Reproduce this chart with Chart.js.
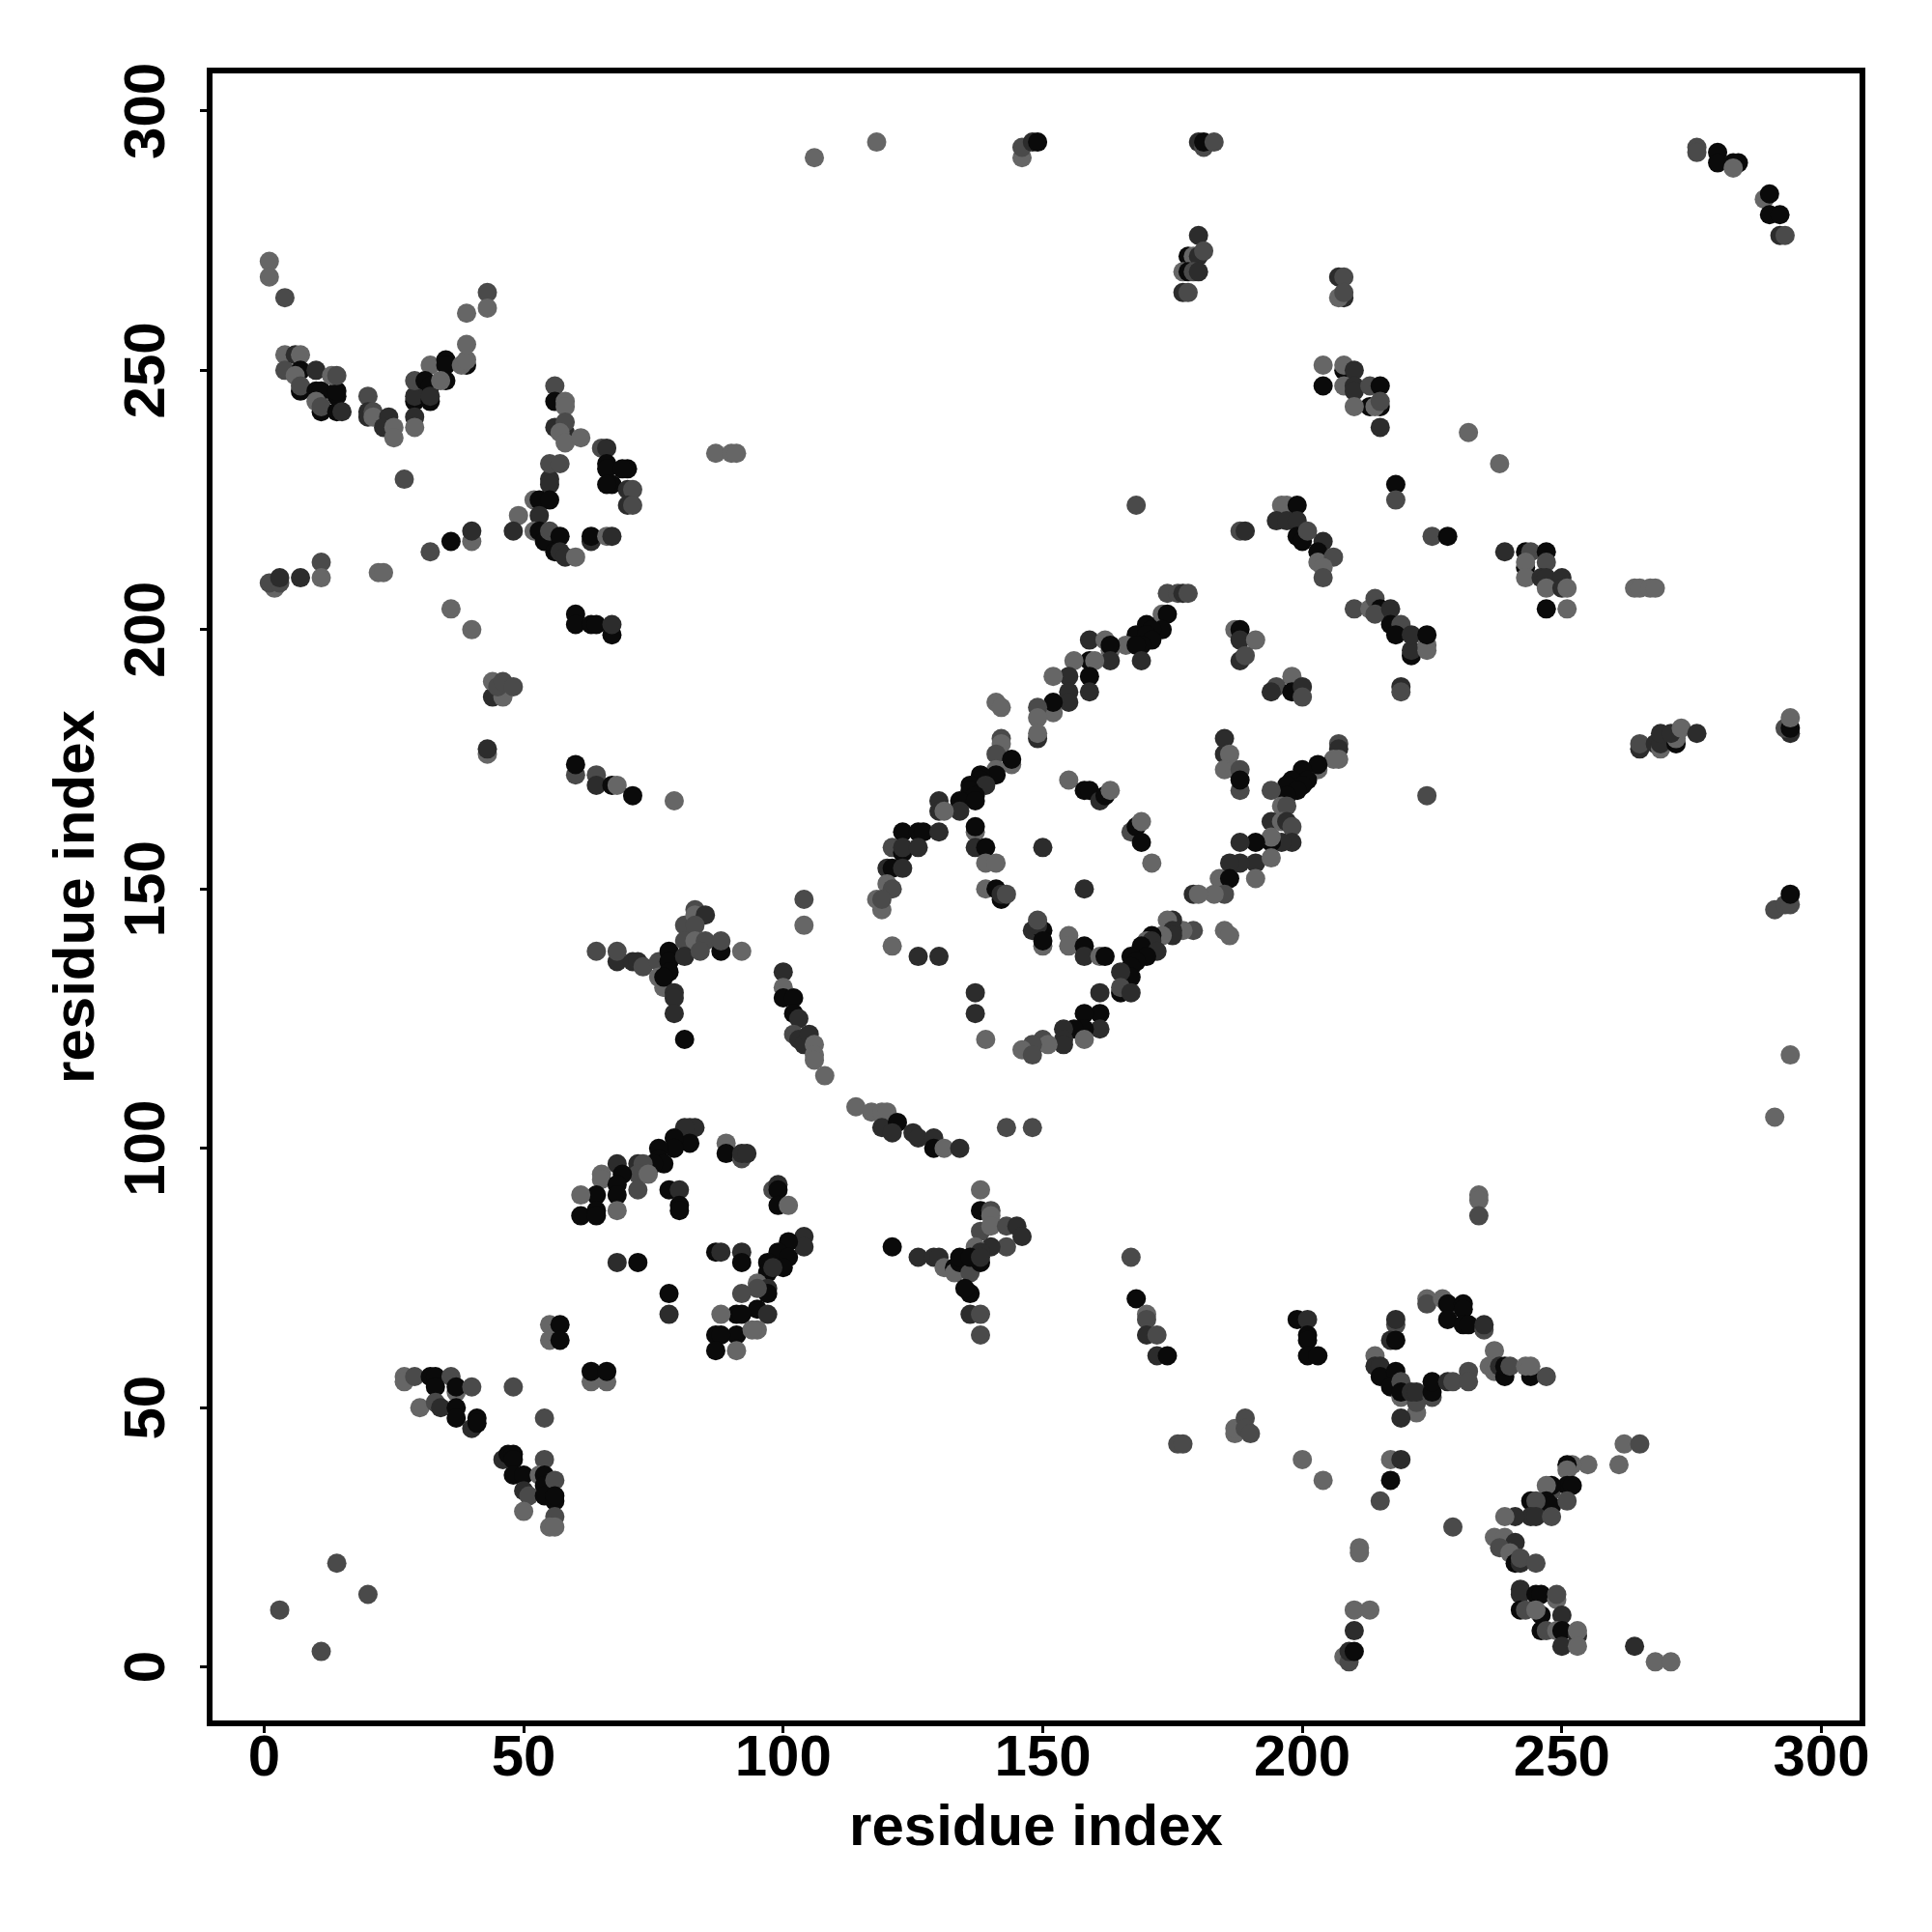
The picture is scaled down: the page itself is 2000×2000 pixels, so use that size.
<!DOCTYPE html>
<html>
<head>
<meta charset="utf-8">
<title>residue contacts</title>
<script src="https://cdn.jsdelivr.net/npm/chart.js@4"></script>
<style>
    body { margin: 0; background: #fff; }
    canvas { display: block; }
</style>
</head>
<body>
<canvas id="contactChart" width="2000" height="2000"></canvas>
<script>
const tickValues = [0, 50, 100, 150, 200, 250, 300];
const axisTitle = 'residue index';

// each contact is [x, y, strength], strength 0 (weak) to 3 (strong)
const upperLeft = [
    [1,271,0],[1,268,0],[4,264,1],[4,253,0],[4,250,1],[6,253,2],[7,253,0],[7,250,3],[6,249,0],[7,246,3],[7,247,1],
    [10,250,2],[10,246,3],[11,246,3],[14,245,3],[14,246,3],[13,249,0],[14,249,1],[10,244,0],[11,242,3],[11,243,1],
    [14,242,3],[15,242,2],[20,245,1],[20,242,2],[20,241,2],[21,242,1],[21,241,0],[24,241,2],[23,239,2],[25,239,0],[25,237,0],
    [29,244,3],[29,245,2],[29,248,1],[29,241,2],[29,239,0],[32,251,0],[31,248,3],[32,247,3],[32,244,3],[32,245,2],
    [35,252,3],[35,251,3],[35,248,3],[34,248,0],[39,251,3],[38,251,0],[39,252,0],[39,255,0],[39,261,0],[43,265,1],[43,262,0],
    [27,229,1],[56,247,1],[56,244,3],[58,244,0],[58,243,0],[56,239,2],[58,238,2],[58,240,1],[57,238,0],[58,236,0],[61,237,0],
    [65,235,1],[66,235,2],[66,232,3],[66,231,3],[70,231,3],[69,231,3],[67,228,3],[66,228,3],[70,227,2],[71,227,1],[70,224,2],[71,224,1],
    [55,229,2],[55,228,2],[55,232,1],[57,232,1],[52,225,0],[53,225,3],[55,225,3],[49,222,0],[53,222,2],[48,219,2],
    [52,219,0],[53,219,3],[54,217,3],[55,219,1],[57,218,3],[56,215,3],[57,215,2],[58,214,2],[60,214,0],
    [63,217,2],[63,218,3],[66,218,0],[67,218,2],[87,234,0],[90,234,0],[91,234,0],
    [40,217,0],[40,219,2],[36,217,3],[32,215,1],[2,208,0],[1,209,1],[3,209,1],[3,210,2],[7,210,2],[11,213,1],[11,210,0],
    [22,211,0],[23,211,0],[36,204,0],[40,200,0],[44,187,2],[44,190,0],[46,187,0],[45,189,1],[46,190,1],[48,189,1],
    [43,176,0],[43,177,2],[60,203,3],[60,201,3],[63,201,3],[64,201,3],[67,199,3],[67,201,2],
    [60,172,1],[60,174,3],[64,172,1],[64,170,2],[67,170,3],[68,170,0],[71,168,3],[79,167,0]
];

const lowerRight = [
    [204,251,0],[208,250,3],[208,251,0],[210,250,2],[204,247,3],[208,247,0],[210,247,2],[210,246,2],[213,247,1],[215,247,3],
    [213,243,3],[215,243,3],[214,243,0],[215,244,1],[210,243,0],[215,239,2],[232,238,0],[238,232,0],[218,228,3],[218,225,1],
    [225,218,1],[228,218,3],[239,215,2],[243,212,3],[243,215,3],[244,215,1],[243,213,0],[247,215,3],[247,213,1],
    [243,210,0],[246,210,2],[247,210,2],[250,210,2],[247,208,0],[250,208,2],[251,208,0],[247,204,3],[251,204,0],
    [264,208,0],[265,208,0],[267,208,0],[268,208,0],
    [196,224,0],[197,224,0],[199,224,3],[195,221,2],[197,221,2],[199,221,2],[199,218,3],[200,217,3],[201,219,1],[204,217,2],
    [203,215,3],[203,213,0],[206,214,1],[204,212,0],[204,210,1],[188,219,1],[189,219,2],
    [210,204,1],[213,204,0],[214,206,1],[215,204,3],[214,203,1],[217,204,2],[217,201,3],[219,201,1],[218,199,3],[221,195,3],[221,196,2],
    [221,199,2],[224,197,0],[224,196,0],[224,199,3],
    [199,67,3],[201,67,2],[201,64,3],[201,63,3],[201,60,3],[203,60,3],[218,66,1],[218,67,2],[217,63,2],[218,63,3],
    [214,60,0],[214,58,2],[215,58,2],[215,56,3],[218,57,3],[217,54,3],[219,55,1],[219,52,0],[219,53,3],[222,49,0],[222,51,1],[221,53,2],[222,53,2],[219,48,2],
    [225,52,1],[225,53,3],[225,55,3],[228,55,2],[229,55,1],[232,57,1],[232,55,1],
    [224,71,0],[224,70,1],[227,71,0],[228,70,3],[231,70,3],[231,69,3],[228,67,3],[231,66,3],[232,66,3],[235,65,1],[235,66,2],
    [237,61,0],[236,58,0],[237,57,0],[238,58,2],[239,56,3],[239,58,3],[240,58,1],[244,56,3],[243,58,0],[244,58,0],[247,56,1],
    [200,40,0],[204,36,0],[217,40,0],[219,40,2],[217,36,3],[215,32,1],[229,27,1],[211,23,0],[211,22,0],
    [262,43,0],[265,43,1],[261,39,0],[255,39,0],[252,39,0],[251,39,3],[251,38,0],
    [248,34,1],[251,35,3],[252,35,3],[248,35,3],[247,35,0],[244,32,3],[247,32,3],[248,31,3],[245,32,1],[251,32,1],
    [244,29,2],[245,29,2],[248,29,1],[241,29,2],[239,29,0],
    [237,25,0],[239,25,0],[241,24,2],[238,23,1],[240,22,0],[241,20,3],[242,20,2],[242,21,1],[245,20,1],
    [242,15,2],[242,14,2],[245,14,3],[246,14,3],[249,13,0],[249,14,1],
    [242,11,3],[243,11,1],[246,10,3],[245,11,0],[250,10,2],[246,7,3],[247,7,1],[249,7,0],[250,7,3],[253,6,2],[253,7,0],[250,4,2],[253,4,0],
    [264,4,2],[268,1,0],[271,1,0],[210,11,0],[213,11,0],[210,7,2],[208,2,0],[209,1,1],[209,3,2],[210,3,3],
    [167,79,1],[168,71,3],[170,68,0],[170,67,1],[170,64,2],[172,64,1],[172,60,2],[174,60,3],
    [176,43,1],[177,43,1],[187,45,0],[187,46,0],[189,48,1],[189,46,1],[190,45,1],
    [234,91,0],[234,90,0],[234,87,1]
];

const centerRing = [
    [174,207,1],[176,207,1],[177,207,2],[178,207,1],[173,203,0],[174,203,3],[170,201,3],[173,200,3],[171,200,3],[168,199,3],[170,199,3],
    [171,198,3],[166,197,0],[169,197,3],[168,197,3],[169,194,2],[159,198,2],[162,198,0],[163,196,0],[163,197,3],[163,194,2],[159,194,3],[160,194,0],[156,194,0],
    [155,191,2],[159,191,3],[152,191,0],[155,188,2],[159,188,2],[155,186,2],[152,184,0],[152,186,3],[149,185,1],[149,183,0],[149,179,2],[149,180,0],
    [141,186,0],[142,185,0],[142,179,1],[142,178,0],[141,176,1],[144,174,0],[144,175,3],[141,173,0],
    [141,172,3],[138,172,3],[138,171,3],[136,170,3],[139,170,2],[136,169,3],[137,168,3],[134,167,3],[137,167,3],
    [130,167,2],[130,165,2],[134,165,2],[131,165,0],[137,161,0],[137,162,3],
    [123,161,3],[126,161,3],[127,161,3],[130,161,2],[121,158,1],[123,157,3],[123,158,2],[126,158,2],[137,158,2],[139,158,3],[139,155,0],[141,155,0],
    [120,154,2],[121,154,3],[123,154,2],[120,151,0],[121,150,1],[118,148,0],[119,146,0],[119,148,1],[121,139,0],[126,137,2],[130,137,2],
    [137,130,2],[137,126,2],[139,121,0],[139,150,0],[142,148,3],[141,150,3],[142,149,2],[143,149,1],
    [150,158,2],[158,150,2],[155,171,0],[158,169,3],[159,169,3],[161,167,2],[162,168,3],[163,169,0],
    [167,161,1],[168,162,3],[169,163,0],[169,159,3],[171,155,0],
    [148,142,2],[150,142,3],[149,143,2],[149,144,1],[150,139,0],[150,140,3],[155,141,0],[155,139,0],[158,139,3],[158,137,2],[161,137,0],[162,137,3],
    [161,130,2],[161,126,3],[158,126,3],[161,123,2],[158,123,3],[156,123,3],[158,121,0],[154,123,2],[154,121,2],[154,120,2],
    [150,121,1],[151,120,0],[148,120,1],[146,119,0],[148,118,1],
    [207,178,1],[207,177,2],[207,175,0],[206,175,0],[203,173,0],[203,174,3],[200,173,3],[201,171,3],[198,171,3],[200,170,3],[197,170,3],[199,169,3],[197,168,3],
    [194,169,1],[196,166,0],[197,166,1],[185,179,2],[185,176,2],[186,176,0],[185,173,0],[187,173,0],[188,173,1],[188,169,1],[188,171,3],
    [194,163,2],[196,163,0],[197,163,2],[198,162,1],[198,159,2],[196,159,2],[194,159,3],[194,160,0],
    [191,159,3],[188,159,2],[191,155,2],[188,155,2],[186,155,2],[194,156,0],[191,152,0],[184,152,0],[186,152,3],
    [185,149,1],[183,149,0],[179,149,2],[180,149,0],
    [179,142,1],[177,142,0],[175,144,2],[174,144,0],[175,142,2],[175,141,2],[173,141,0],[171,141,3],[170,140,0],[171,140,2],[169,139,3],[172,138,2],
    [170,137,3],[167,137,3],[168,136,3],[167,135,3],[167,133,3],[165,134,2],[165,130,3],[165,131,1],[167,130,2],[185,142,0],[186,141,0]
];

const lowerLeft = [
    [3,11,1],[11,3,1],[14,20,1],[20,14,1],
    [27,56,0],[27,55,0],[29,56,1],[32,56,3],[33,56,3],[36,56,1],[33,54,3],[37,53,0],[37,54,3],[40,54,1],[48,54,1],
    [30,50,0],[33,51,1],[34,50,2],[37,50,3],[37,48,3],[40,46,2],[41,48,3],[41,47,3],[54,48,1],[46,40,2],[47,41,3],[48,41,3],[48,40,3],[54,40,1],
    [48,37,3],[50,37,3],[53,37,0],[54,37,3],[54,35,3],[56,36,1],[50,34,2],[51,33,1],[54,33,3],[56,32,3],[56,33,3],[56,29,1],[50,30,0],[55,27,0],[56,27,0],
    [55,66,0],[57,66,3],[55,63,0],[57,63,3],[63,55,0],[66,55,0],[63,57,3],[66,57,3],
    [68,78,2],[72,78,3],[78,72,3],[78,68,2],[121,81,3],[81,121,3],
    [82,104,2],[83,104,2],[81,104,2],[82,101,3],[79,102,3],[79,100,3],[76,100,3],[76,98,3],[77,97,3],[75,97,3],
    [72,97,2],[73,97,1],[72,95,1],[74,95,0],[68,97,2],[69,95,3],[65,95,0],[65,94,0],[68,93,3],[68,91,3],[64,91,3],[61,91,0],[72,92,1],
    [61,87,3],[64,88,3],[64,87,3],[68,88,0],[78,92,3],[80,92,2],[80,89,3],[80,88,3],
    [89,101,0],[89,99,3],[92,98,1],[92,99,2],[93,99,2],[98,92,1],[99,93,2],[99,92,3],[99,89,3],[101,89,0],
    [104,83,2],[104,81,2],[101,82,3],[99,80,3],[101,79,3],[97,78,3],[100,77,3],[97,76,3],[98,77,2],
    [95,74,0],[97,73,2],[97,72,3],[95,73,1],[92,72,1],[95,69,3],[97,68,2],[91,68,3],[92,68,3],[88,68,0],
    [91,64,3],[87,64,3],[88,64,3],[87,61,3],[91,61,0],[95,65,0],[94,65,0],
    [87,80,3],[88,80,2],[92,80,2],[92,78,3],
    [64,138,1],[68,136,2],[68,138,1],[71,136,2],[72,136,2],[73,135,1],[76,136,1],[76,133,0],[77,131,0],[78,138,3],[78,136,3],[78,134,3],[77,133,3],
    [79,130,2],[79,129,2],[79,126,2],[81,143,1],[83,146,1],[83,145,0],[85,145,2],[83,143,1],[81,140,1],[83,140,0],[81,137,2],[85,140,1],[84,138,1],
    [88,138,3],[88,140,1],[92,138,0],[104,148,1],[104,143,0],
    [100,134,2],[100,131,0],[100,129,3],[102,129,3],[102,126,3],[103,125,2],[102,122,1],[103,121,2],[104,120,2],[105,122,2],[106,120,0],[106,118,0],[106,117,0],[108,114,0],
    [114,108,0],[117,107,0],[119,107,0],[120,107,0],[119,104,2],[122,105,3],[121,103,2],[125,103,2],[126,102,2],[129,102,2],[129,100,3],[131,100,0],[134,100,2],
    [143,104,1],[148,104,1],
    [126,79,2],[129,79,2],[130,79,2],[131,77,0],[133,77,3],[133,76,0],[134,78,3],[136,78,3],[136,76,1],[138,78,3],[136,72,3],[135,73,3],[136,68,2],[138,68,1],[138,64,1],
    [138,92,0],[138,88,3],[140,88,1],[140,87,0],[138,84,1],[140,85,0],[143,85,1],[145,85,2],[146,83,2],[143,81,1],[140,81,2],[137,81,0],[138,80,2],[134,79,3],[136,79,3],[138,79,2]
];

const outerEdges = [
    [106,291,0],[118,294,0],[146,291,0],[146,293,1],[148,294,2],[149,294,3],[180,294,2],[181,293,1],[181,294,3],[183,294,1],
    [180,276,2],[178,272,3],[179,272,0],[180,272,2],[181,273,1],[177,269,0],[178,269,3],[179,269,1],[180,269,2],[177,265,2],[178,265,1],
    [207,268,2],[208,268,1],[208,264,2],[207,264,0],[208,265,1],
    [276,293,1],[276,292,1],[280,292,3],[280,290,3],[283,290,3],[284,290,3],[283,289,0],[289,283,0],[290,284,3],[290,280,3],[292,280,3],[292,276,2],[293,276,1],
    [265,177,2],[265,178,1],[268,178,2],[269,177,0],[269,178,2],[269,180,2],[272,178,3],[272,179,0],[271,180,2],[273,181,0],[276,180,2],
    [294,180,2],[293,181,1],[294,181,3],[294,183,0],[224,168,1],[168,224,1],[219,189,2],[219,188,1],
    [187,200,0],[188,200,3],[188,198,2],[191,198,0],[188,194,2],[189,195,1],[198,191,0],[195,189,1],[194,188,2],[198,188,3],[200,189,2],[200,187,1],
    [291,146,1],[293,147,1],[294,147,1],[294,149,3],[294,118,0],[291,106,0]
];

const shadeColors = ['#666666', '#4a4a4a', '#2c2c2c', '#0a0a0a'];

const allContacts = upperLeft.concat(outerEdges, centerRing, lowerLeft, lowerRight);

// box around the plot, same line weight as the original frame
const framePlugin = {
    id: 'frame',
    afterDatasetsDraw(chart) {
        const { ctx, chartArea } = chart;
        ctx.save();
        ctx.strokeStyle = '#000';
        ctx.lineWidth = 6;
        ctx.strokeRect(chartArea.left, chartArea.top, chartArea.right - chartArea.left, chartArea.bottom - chartArea.top);
        ctx.restore();
    }
};

const tickFont = { family: '"Liberation Sans"', size: 60, weight: 'bold' };

function useFixedTicks(scale) {
    scale.ticks = tickValues.map(v => ({ value: v }));
}

new Chart(document.getElementById('contactChart'), {
    type: 'scatter',
    data: {
        datasets: [{
            data: allContacts.map(p => ({ x: p[0], y: p[1] })),
            pointBackgroundColor: allContacts.map(p => shadeColors[p[2]]),
            pointBorderWidth: 0,
            pointRadius: 10,
            pointHoverRadius: 10
        }]
    },
    options: {
        responsive: false,
        animation: false,
        layout: { padding: { top: 73, right: 72, left: 0, bottom: 0 } },
        plugins: { legend: { display: false }, tooltip: { enabled: false } },
        scales: {
            x: {
                type: 'linear',
                min: -10.5,
                max: 307.9,
                afterBuildTicks: useFixedTicks,
                afterFit(scale) { scale.height = 216; },
                grid: { drawOnChartArea: false, tickLength: 10, tickWidth: 3, tickColor: '#000' },
                border: { display: false },
                ticks: { color: '#000', font: tickFont, padding: -9, maxRotation: 0, autoSkip: false },
                title: { display: true, text: axisTitle, color: '#000', font: tickFont, padding: { top: 0, bottom: 71 } }
            },
            y: {
                type: 'linear',
                min: -10.86,
                max: 307.8,
                afterBuildTicks: useFixedTicks,
                afterFit(scale) { scale.width = 217; },
                grid: { drawOnChartArea: false, tickLength: 10, tickWidth: 3, tickColor: '#000' },
                border: { display: false },
                ticks: { color: '#000', font: tickFont, padding: 3, minRotation: 90, maxRotation: 90, crossAlign: 'center', autoSkip: false },
                title: { display: true, text: axisTitle, color: '#000', font: tickFont, padding: { top: 44, bottom: 0 } }
            }
        }
    },
    plugins: [framePlugin]
});
</script>
</body>
</html>
